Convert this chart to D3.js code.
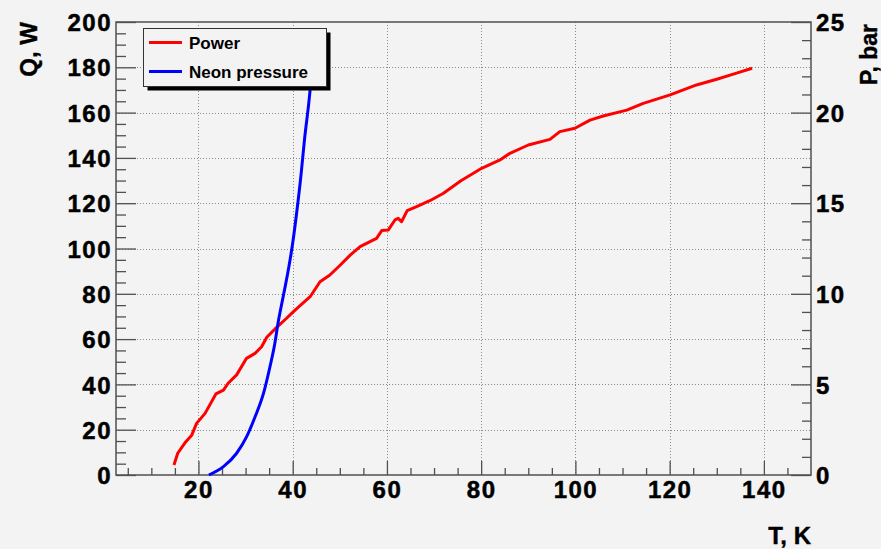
<!DOCTYPE html>
<html>
<head>
<meta charset="utf-8">
<script src="https://cdn.jsdelivr.net/npm/d3@7"></script>
<style>
  body { margin: 0; background: #f3f3f3; }
  svg { display: block; }
  text { font-family: "Liberation Sans", Arial, sans-serif; font-weight: bold; fill: #000; }
</style>
</head>
<body>
<div id="chart"></div>
<script>
// data
const powerT = [14.8, 15.6, 17.1, 18.6, 19.6, 21.4, 23.7, 25.3, 26.3, 28.1, 30.2, 32.0, 33.4, 34.5, 36.6, 38.7, 40.5, 43.7, 45.8, 47.9, 50.0, 52.2, 54.3, 57.8, 58.9, 60.3, 61.7, 62.4, 63.1, 64.3, 66.3, 69.1, 72.0, 75.7, 80.1, 84.0, 86.1, 90.0, 94.6, 96.7, 99.9, 103.1, 105.9, 110.9, 114.4, 120.1, 125.7, 130.0, 134.2, 137.5];
const powerQ = [4.4, 9.6, 14.1, 17.7, 22.8, 27.2, 35.8, 37.5, 40.5, 44.2, 51.5, 53.7, 56.6, 60.8, 65.2, 69.2, 72.8, 78.7, 85.3, 88.3, 92.5, 97.1, 100.8, 104.5, 107.9, 108.2, 112.6, 113.3, 111.8, 116.7, 118.5, 121.1, 124.4, 129.9, 135.4, 139.1, 142.0, 145.7, 148.2, 151.6, 153.1, 156.7, 158.5, 161.1, 164.1, 167.8, 172.2, 174.7, 177.4, 179.6];
const neonT = [22.2, 25.3, 28.1, 30.2, 32.0, 33.8, 35.2, 36.1, 37.0, 38.1, 39.2, 40.0, 40.9, 41.8, 42.5, 43.4, 43.7, 44.3];
const neonP = [0, 0.46, 1.2, 2.1, 3.2, 4.5, 6.0, 7.1, 8.55, 10.0, 11.5, 12.8, 14.6, 16.65, 18.5, 20.5, 21.25, 23.0];

const xTicks = [20, 40, 60, 80, 100, 120, 140];
const qTicks = [0, 20, 40, 60, 80, 100, 120, 140, 160, 180, 200];
const pTicks = [0, 5, 10, 15, 20, 25];
const legendLabels = ["Power", "Neon pressure"];

var W = 881, H = 549;
var margin = {top: 22, right: 70, bottom: 74, left: 116},
    width = W - margin.left - margin.right,
    height = H - margin.top - margin.bottom;

const svg = d3.select("#chart").append("svg")
  .attr("width", W).attr("height", H);

svg.append("rect").attr("width", W).attr("height", H).attr("fill", "#f3f3f3");

const g = svg.append("g")
  .attr("transform", "translate(" + margin.left + "," + margin.top + ")");

var x = d3.scaleLinear().domain([2.5, 150]).range([0, width]);
var yQ = d3.scaleLinear().domain([0, 200]).range([height, 0]);
var yP = d3.scaleLinear().domain([0, 25]).range([height, 0]);

// grid
const grid = g.append("g").attr("stroke", "#8a8a8a").attr("stroke-dasharray", "1,2").attr("stroke-width", 1);
grid.selectAll(".gx").data(xTicks).enter().append("line")
  .attr("x1", d => Math.round(x(d)) + 0.5).attr("x2", d => Math.round(x(d)) + 0.5)
  .attr("y1", 0).attr("y2", height);
grid.selectAll(".gy").data(qTicks.slice(1, -1)).enter().append("line")
  .attr("y1", d => Math.round(yQ(d)) + 0.5).attr("y2", d => Math.round(yQ(d)) + 0.5)
  .attr("x1", 0).attr("x2", width);

// minor ticks
const minorX = d3.range(5, 150, 5).filter(d => d % 20 !== 0);
const minorQ = d3.range(5, 200, 5).filter(d => d % 20 !== 0);
const minorP = d3.range(1, 25, 1).filter(d => d % 5 !== 0);

g.append("g").attr("transform", "translate(0," + height + ")")
  .call(d3.axisBottom(x).tickValues(minorX).tickSize(-7).tickFormat(""))
  .call(a => a.select(".domain").remove());
g.append("g")
  .call(d3.axisLeft(yQ).tickValues(minorQ).tickSize(-10).tickFormat(""))
  .call(a => a.select(".domain").remove());
g.append("g").attr("transform", "translate(" + width + ",0)")
  .call(d3.axisRight(yP).tickValues(minorP).tickSize(-9).tickFormat(""))
  .call(a => a.select(".domain").remove());

// major ticks + labels
const xAxis = g.append("g").attr("transform", "translate(0," + height + ")")
  .call(d3.axisBottom(x).tickValues(xTicks).tickSizeInner(-14).tickSizeOuter(0).tickPadding(0));
xAxis.selectAll("text").attr("y", 23).attr("dy", 0);

const qAxis = g.append("g")
  .call(d3.axisLeft(yQ).tickValues(qTicks).tickSizeInner(-20).tickSizeOuter(0).tickPadding(0));
qAxis.selectAll("text").attr("x", -4).attr("dy", "0.36em");

const pAxis = g.append("g").attr("transform", "translate(" + width + ",0)")
  .call(d3.axisRight(yP).tickValues(pTicks).tickSizeInner(-20).tickSizeOuter(0).tickPadding(0));
pAxis.selectAll("text").attr("x", 5).attr("dy", "0.36em");

g.selectAll(".tick line").attr("stroke", "#505050").attr("stroke-width", 1.3);
g.selectAll(".domain").remove();
g.selectAll(".tick text")
  .style("font-size", "24px").style("letter-spacing", "1.5px")
  .attr("stroke", "#000").attr("stroke-width", 0.5)
  .attr("font-family", null);

// frame
g.append("rect").attr("x", 0).attr("y", 0).attr("width", width).attr("height", height)
  .attr("fill", "none").attr("stroke", "#505050").attr("stroke-width", 1.5);

// curves
const powerData = powerT.map((t, i) => ({t: t, v: powerQ[i]}));
const neonData = neonT.map((t, i) => ({t: t, v: neonP[i]}));

g.append("path").datum(powerData)
  .attr("fill", "none").attr("stroke", "#ff0000").attr("stroke-width", 3)
  .attr("stroke-linejoin", "round")
  .attr("d", d3.line().x(d => x(d.t)).y(d => yQ(d.v)));

g.append("path").datum(neonData)
  .attr("fill", "none").attr("stroke", "#0000ff").attr("stroke-width", 3)
  .attr("stroke-linejoin", "round")
  .attr("d", d3.line().curve(d3.curveMonotoneX).x(d => x(d.t)).y(d => yP(d.v)));

// legend
const legend = svg.append("g");
legend.append("rect").attr("x", 147.5).attr("y", 32.5).attr("width", 183).attr("height", 58).attr("fill", "#000");
legend.append("rect").attr("x", 143.5).attr("y", 28.5).attr("width", 183).attr("height", 58)
  .attr("fill", "#f3f3f3").attr("stroke", "#333").attr("stroke-width", 1);
const legendColors = ["#ff0000", "#0000ff"];
legendLabels.forEach(function(lab, i) {
  const yy = 42.5 + i * 29;
  legend.append("line").attr("x1", 149).attr("x2", 182).attr("y1", yy).attr("y2", yy)
    .attr("stroke", legendColors[i]).attr("stroke-width", 3);
  legend.append("text").attr("x", 189).attr("y", yy + 6).style("font-size", "17px").text(lab);
});

// axis titles
svg.append("text").attr("transform", "translate(37,22) rotate(-90)")
  .attr("text-anchor", "end").style("font-size", "24px")
  .attr("stroke", "#000").attr("stroke-width", 0.4).text("Q, W");
svg.append("text").attr("transform", "translate(877,24) rotate(-90)")
  .attr("text-anchor", "end").style("font-size", "23px")
  .attr("stroke", "#000").attr("stroke-width", 0.4).text("P, bar");
svg.append("text").attr("x", 811).attr("y", 544)
  .attr("text-anchor", "end").style("font-size", "24px")
  .attr("stroke", "#000").attr("stroke-width", 0.4).text("T, K");
</script>
</body>
</html>
